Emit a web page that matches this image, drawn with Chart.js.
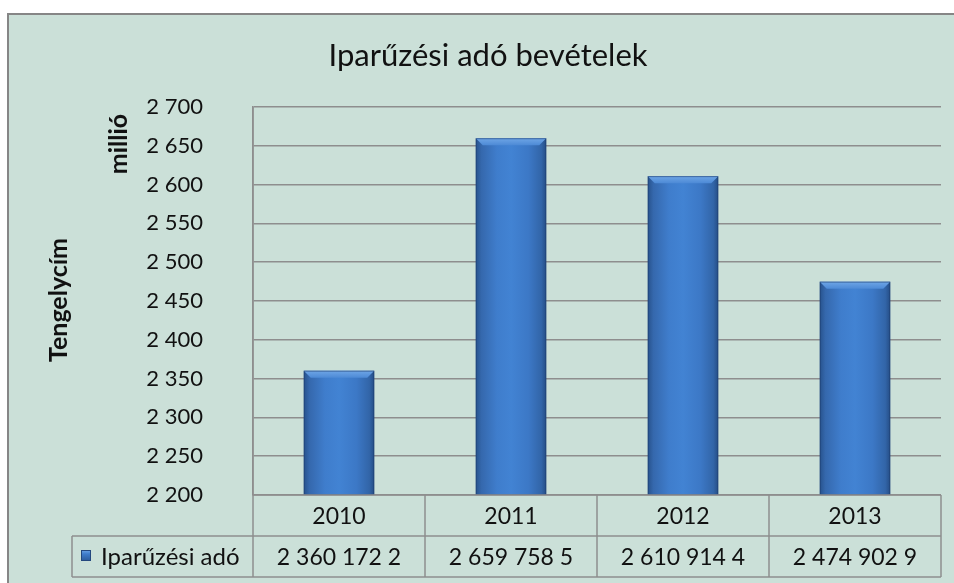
<!DOCTYPE html>
<html>
<head>
<meta charset="utf-8">
<script src="https://cdn.jsdelivr.net/npm/chart.js@4"></script>
<style>
html,body{margin:0;padding:0;background:#ffffff;}
#wrap{position:relative;width:954px;height:583px;}
canvas{display:block;}
</style>
</head>
<body>
<div id="wrap"><canvas id="c" width="954" height="583"></canvas></div>
<script>
// ---- data ----
const chartTitle = 'Iparűzési adó bevételek';
const yAxisTitle = 'Tengelycím';
const unitLabel = 'millió';
const seriesName = 'Iparűzési adó';
const categories = ['2010', '2011', '2012', '2013'];
const values = [2360.1722, 2659.7585, 2610.9144, 2474.9029]; // millió
const tableTexts = ['2 360 172 2', '2 659 758 5', '2 610 914 4', '2 474 902 9'];
const yMin = 2200, yMax = 2700, yStep = 50;

const FONT = 'Lato, "Open Sans", "Noto Sans", sans-serif';
const BG = '#cbe0d8';
const LINE = '#8e8e8e';

function fmt(v){ return String(Math.round(v)).replace(/\B(?=(\d{3})+(?!\d))/g, ' '); }

function barGradient(ctx, x0, x1){
  const g = ctx.createLinearGradient(x0, 0, x1, 0);
  g.addColorStop(0, '#27528c');
  g.addColorStop(0.08, '#3568ad');
  g.addColorStop(0.3, '#3f7dcc');
  g.addColorStop(0.5, '#4283d3');
  g.addColorStop(0.75, '#3c78c6');
  g.addColorStop(0.93, '#3265a8');
  g.addColorStop(1, '#254d85');
  return g;
}

const framePlugin = {
  id: 'frame',
  beforeDraw(chart){
    const ctx = chart.ctx;
    ctx.save();
    ctx.fillStyle = '#ffffff';
    ctx.fillRect(0, 0, chart.width, chart.height);
    ctx.fillStyle = BG;
    ctx.fillRect(8, 14, chart.width, chart.height);
    ctx.strokeStyle = '#868686';
    ctx.lineWidth = 2;
    ctx.strokeRect(8, 14, chart.width + 20, chart.height + 20);
    // texts
    ctx.fillStyle = '#111111';
    ctx.textAlign = 'center';
    ctx.textBaseline = 'middle';
    ctx.font = '31px ' + FONT;
    ctx.fillText(chartTitle, 488, 56);
    ctx.font = 'bold 25px ' + FONT;
    ctx.save();
    ctx.translate(119, 144);
    ctx.rotate(-Math.PI/2);
    ctx.fillText(unitLabel, 0, 0);
    ctx.restore();
    ctx.save();
    ctx.translate(59, 300);
    ctx.rotate(-Math.PI/2);
    ctx.fillText(yAxisTitle, 0, 0);
    ctx.restore();
    ctx.restore();
  }
};

const barDecorPlugin = {
  id: 'barDecor',
  afterDatasetsDraw(chart){
    const ctx = chart.ctx;
    const a = chart.chartArea;
    const meta = chart.getDatasetMeta(0);
    ctx.save();
    meta.data.forEach(el => {
      const l = el.x - el.width/2, r = el.x + el.width/2, t = el.y;
      const bottom = Math.min(el.base, a.bottom);
      const b = 7;
      // top bevel
      ctx.beginPath();
      ctx.moveTo(l, t); ctx.lineTo(r, t); ctx.lineTo(r - b, t + b); ctx.lineTo(l + b, t + b); ctx.closePath();
      const g = ctx.createLinearGradient(0, t, 0, t + b);
      g.addColorStop(0, '#6fa6e6');
      g.addColorStop(1, '#4d8ad6');
      ctx.fillStyle = g;
      ctx.fill();
      ctx.strokeStyle = 'rgba(30,60,110,0.55)';
      ctx.lineWidth = 1;
      ctx.strokeRect(l + 0.5, t + 0.5, el.width - 1, bottom - t - 1);
    });
    ctx.restore();
  }
};

const tablePlugin = {
  id: 'dataTable',
  afterDraw(chart){
    const ctx = chart.ctx;
    const a = chart.chartArea;
    const xs = chart.scales.x;
    const n = categories.length;
    const colW = (a.right - a.left) / n;
    const r0 = a.bottom, r1 = a.bottom + 41, r2 = a.bottom + 82;
    ctx.save();
    ctx.strokeStyle = LINE;
    ctx.lineWidth = 1.5;
    ctx.beginPath();
    ctx.moveTo(a.left, r0); ctx.lineTo(a.right, r0);
    ctx.moveTo(72, r1); ctx.lineTo(a.right, r1);
    ctx.moveTo(72, r2); ctx.lineTo(a.right, r2);
    ctx.moveTo(a.left, a.top); ctx.lineTo(a.left, r2);
    ctx.moveTo(72, r1); ctx.lineTo(72, r2);
    for (let i = 0; i < n; i++) {
      const xr = xs.getPixelForValue(i) + colW/2;
      ctx.moveTo(xr, r0); ctx.lineTo(xr, r2);
    }
    ctx.stroke();
    ctx.fillStyle = '#111111';
    ctx.font = '23px ' + FONT;
    ctx.textAlign = 'center';
    ctx.textBaseline = 'middle';
    for (let i = 0; i < n; i++) {
      const cx = xs.getPixelForValue(i);
      ctx.fillText(categories[i], cx, (r0 + r1)/2 + 1);
      ctx.fillText(tableTexts[i], cx, (r1 + r2)/2 + 1);
    }
    // legend key
    const kx = 81, ky = 550;
    const g = ctx.createLinearGradient(0, ky, 0, ky + 11);
    g.addColorStop(0, '#6ea6e6');
    g.addColorStop(0.35, '#3f7dcc');
    g.addColorStop(1, '#2b5a9a');
    ctx.fillStyle = g;
    ctx.fillRect(kx, ky, 10, 11);
    ctx.strokeStyle = '#24487e';
    ctx.lineWidth = 1;
    ctx.strokeRect(kx + 0.5, ky + 0.5, 9, 10);
    ctx.fillStyle = '#111111';
    ctx.textAlign = 'left';
    ctx.font = '24px ' + FONT;
    ctx.fillText(seriesName, 101, (r1 + r2)/2 + 1);
    ctx.restore();
  }
};

new Chart(document.getElementById('c'), {
  type: 'bar',
  data: {
    labels: categories,
    datasets: [{
      label: seriesName,
      data: values,
      categoryPercentage: 1,
      barPercentage: 0.41,
      borderWidth: 0,
      backgroundColor: (c) => {
        const chart = c.chart;
        if (!chart.chartArea || !chart.scales.x) return '#3f7dcc';
        const xs = chart.scales.x;
        const colW = (chart.chartArea.right - chart.chartArea.left) / categories.length;
        const w = colW * 0.41;
        const cx = xs.getPixelForValue(c.dataIndex);
        return barGradient(chart.ctx, cx - w/2, cx + w/2);
      }
    }]
  },
  options: {
    responsive: false,
    animation: false,
    devicePixelRatio: 1,
    layout: { padding: { top: 107, left: 0, right: 13, bottom: 88 } },
    plugins: {
      legend: { display: false },
      title: { display: false },
      tooltip: { enabled: false }
    },
    scales: {
      x: { display: false },
      y: {
        min: yMin, max: yMax,
        afterFit(scale){ scale.width = 253; },
        ticks: {
          stepSize: yStep,
          padding: 50,
          color: '#111111',
          font: { family: FONT, size: 22 },
          callback: (v) => fmt(v)
        },
        grid: { color: LINE, lineWidth: 1.5, drawTicks: false },
        border: { display: true, color: LINE, width: 1.5 }
      }
    }
  },
  plugins: [framePlugin, barDecorPlugin, tablePlugin]
});
</script>
</body>
</html>
